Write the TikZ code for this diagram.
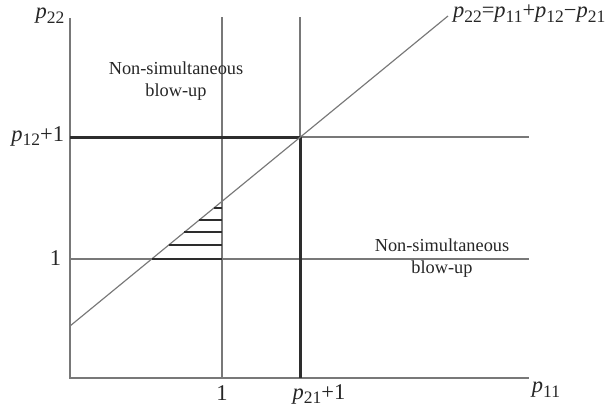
\documentclass[tikz,border=0pt]{standalone}
\usepackage{fontspec}
\setmainfont{Liberation Serif}
\usetikzlibrary{calc}
\definecolor{axisgrey}{RGB}{120,120,120}
\definecolor{boldgrey}{RGB}{45,45,45}
\newcommand{\pvar}[1]{\textit{p}\raisebox{-0.4ex}{\fontsize{10.5}{10.5}\selectfont #1}}

\begin{document}
\begin{tikzpicture}[
  x=0.6pt, y=-0.6pt,
  font=\fontsize{11}{13.5}\selectfont,
  thinline/.style={draw=axisgrey, line width=0.7pt},
  boldline/.style={draw=boldgrey, line width=1.8pt},
  hatchline/.style={draw=boldgrey, line width=1.5pt},
  region/.style={align=center, inner sep=0pt, text=black!85},
  lbl/.style={inner sep=1pt, text=black!85, font=\fontsize{13.5}{15}\selectfont},
]
\useasboundingbox (0,0) rectangle (614,409);

% --- Axes -----------------------------------------------------------
\coordinate (O) at (70,378);
\coordinate (yTop) at (70,18);
\coordinate (xEnd) at (529,378);
\draw[thinline] (yTop) -- (O) -- (xEnd);

% --- Reference lines at 1 and at p+1 --------------------------------
\coordinate (oneTop) at (222,17);
\coordinate (oneBot) at (222,378);
\coordinate (pTop) at (300,17);
\coordinate (corner) at (300,137);
\coordinate (pBot) at (300,378);
\coordinate (oneL) at (70,259);
\coordinate (oneR) at (529,259);
\coordinate (pL) at (70,137);
\coordinate (pR) at (529,137);
\draw[thinline] (oneTop) -- (oneBot);
\draw[thinline] (oneL) -- (oneR);
\draw[thinline] (pTop) -- (corner) -- (pR);
\draw[boldline] (pL) -- (corner) -- (pBot);

% --- Diagonal p22 = p11 + p12 - p21 ---------------------------------
\coordinate (dStart) at (70,326);
\coordinate (dEnd) at (448,16);
\draw[thinline] (dStart) -- (dEnd);

% hatching between diagonal and p11 = 1
\foreach \y in {259,245,232,220,208} {
  \draw[hatchline] ({70+(326-\y)/0.8217},\y) -- (222,\y);
}

% --- Labels ---------------------------------------------------------
\node[lbl] (yLabel) at (50,16) {\pvar{22}};
\node[lbl] (xLabel) at (546,390) {\pvar{11}};
\node[lbl, anchor=east] (pOneY) at (66,136) {\pvar{12}+1};
\node[lbl, anchor=east] (oneY) at (63,258) {1};
\node[lbl] (oneX) at (222,393) {1};
\node[lbl] (pOneX) at (319,394) {\pvar{21}+1};
\node[lbl, anchor=west] (diagLabel) at (451,14) {\pvar{22}=\pvar{11}+\pvar{12}−\pvar{21}};

\node[region] (upperRegion) at (176,81) {Non-simultaneous\\blow-up};
\node[region] (lowerRegion) at (442,258) {Non-simultaneous\\blow-up};
\end{tikzpicture}
\end{document}
